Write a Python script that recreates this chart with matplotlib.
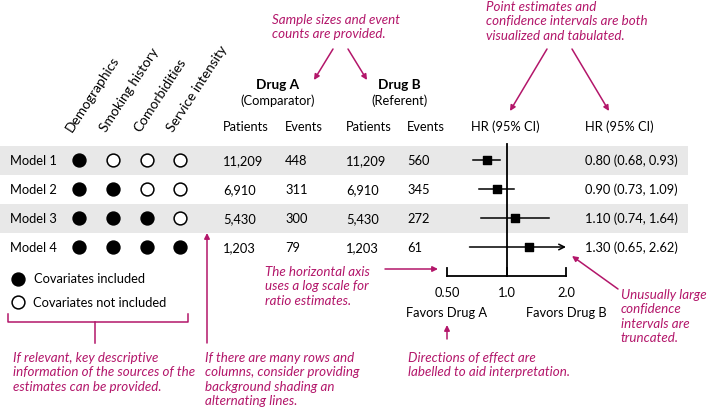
import matplotlib.pyplot as plt

plt.rcParams['font.family'] = ['Lato', 'DejaVu Sans']

# data
models = ["Model 1", "Model 2", "Model 3", "Model 4"]
covariates = ["Demographics", "Smoking history", "Comorbidities", "Service intensity"]
included = [[1, 0, 0, 0],
            [1, 1, 0, 0],
            [1, 1, 1, 0],
            [1, 1, 1, 1]]
patients_a = [11209, 6910, 5430, 1203]
events_a = [448, 311, 300, 79]
patients_b = [11209, 6910, 5430, 1203]
events_b = [560, 345, 272, 61]
hr = [0.80, 0.90, 1.10, 1.30]
hr_lo = [0.68, 0.73, 0.74, 0.65]
hr_hi = [0.93, 1.09, 1.64, 2.62]
axis_ticks = [0.5, 1.0, 2.0]
axis_ticklabels = ["0.50", "1.0", "2.0"]

MAG = "#B3166A"
FS = 9.3
NFS = 9.6

fig = plt.figure(figsize=(7.09, 4.10), dpi=100)
ax = fig.add_axes([0, 0, 1, 1])
ax.set_xlim(0, 709)
ax.set_ylim(410, 0)
ax.axis("off")

# forest panel on a log scale, 0.5 -> 447px, 2.0 -> 566px
fx = fig.add_axes([447 / 709, 0, (566 - 447) / 709, 1])
fx.set_xscale("log")
fx.set_xlim(axis_ticks[0], axis_ticks[-1])
fx.set_ylim(410, 0)
fx.axis("off")
fx.patch.set_alpha(0)

row0, dy = 161, 29
ys = [row0 + dy * i for i in range(len(models))]

# alternating shading
for i, y in enumerate(ys):
    if i % 2 == 0:
        ax.add_patch(plt.Rectangle((0, y - dy / 2), 688, dy, color="#E8E8E8", lw=0, zorder=0))

# column headers
circ_x = [79, 113, 147, 180]
for cx, name in zip(circ_x, covariates):
    ax.text(cx - 5, 134, name, rotation=57, rotation_mode="anchor",
            ha="left", va="bottom", fontsize=FS + 0.6)

ax.text(278, 85, "Drug A", ha="center", va="center", fontsize=FS + 0.5, fontweight="bold")
ax.text(278, 101, "(Comparator)", ha="center", va="center", fontsize=FS)
ax.text(399, 85, "Drug B", ha="center", va="center", fontsize=FS + 0.5, fontweight="bold")
ax.text(399, 101, "(Referent)", ha="center", va="center", fontsize=FS)
for x, lab in zip([223, 285, 346, 407], ["Patients", "Events", "Patients", "Events"]):
    ax.text(x, 127, lab, ha="left", va="center", fontsize=FS)
ax.text(505, 127, "HR (95% CI)", ha="center", va="center", fontsize=FS)
ax.text(585, 127, "HR (95% CI)", ha="left", va="center", fontsize=FS)

# table rows
for i, y in enumerate(ys):
    ax.text(10, y, models[i], ha="left", va="center", fontsize=FS)
    for cx, inc in zip(circ_x, included[i]):
        ax.scatter(cx, y, s=85, facecolor="black" if inc else "white",
                   edgecolor="black", lw=1.1, zorder=3)
    ax.text(223, y, f"{patients_a[i]:,}", ha="left", va="center", fontsize=FS)
    ax.text(285, y, f"{events_a[i]}", ha="left", va="center", fontsize=FS)
    ax.text(346, y, f"{patients_b[i]:,}", ha="left", va="center", fontsize=FS)
    ax.text(407, y, f"{events_b[i]}", ha="left", va="center", fontsize=FS)
    ax.text(585, y, f"{hr[i]:.2f} ({hr_lo[i]:.2f}, {hr_hi[i]:.2f})",
            ha="left", va="center", fontsize=FS)

# forest plot
axis_y = 277
fx.plot([1, 1], [145, axis_y], color="black", lw=1.3, clip_on=False)
fx.plot([axis_ticks[0], axis_ticks[-1]], [axis_y, axis_y], color="black", lw=1.3, clip_on=False)
for t, tl in zip(axis_ticks, axis_ticklabels):
    fx.plot([t, t], [axis_y - 8, axis_y], color="black", lw=1.3, clip_on=False)
    fx.text(t, 293, tl, ha="center", va="center", fontsize=FS)
fx.text(axis_ticks[0], 313, "Favors Drug A", ha="center", va="center", fontsize=FS)
fx.text(axis_ticks[-1], 313, "Favors Drug B", ha="center", va="center", fontsize=FS)

for i, y in enumerate(ys):
    if hr_hi[i] > axis_ticks[-1]:
        fx.annotate("", xy=(axis_ticks[-1], y), xytext=(hr_lo[i], y),
                    arrowprops=dict(arrowstyle="->", color="black", lw=1.1,
                                    shrinkA=0, shrinkB=0, mutation_scale=10),
                    annotation_clip=False)
    else:
        fx.plot([hr_lo[i], hr_hi[i]], [y, y], color="black", lw=1.1, clip_on=False)
    fx.scatter(hr[i], y, marker="s", s=26, color="black", zorder=3, clip_on=False)

# legend
ax.scatter(18, 280, s=85, facecolor="black", edgecolor="black", lw=1.1)
ax.text(34, 279, "Covariates included", ha="left", va="center", fontsize=FS)
ax.scatter(18, 303, s=85, facecolor="white", edgecolor="black", lw=1.1)
ax.text(33, 303, "Covariates not included", ha="left", va="center", fontsize=FS)

# annotations
def note(x, y, s):
    ax.text(x, y, s, ha="left", va="top", fontsize=NFS, style="italic",
            color=MAG, linespacing=1.25)

def arrow(x0, y0, x1, y1):
    ax.annotate("", xy=(x1, y1), xytext=(x0, y0),
                arrowprops=dict(arrowstyle="-|>", color=MAG, lw=1.1,
                                shrinkA=0, shrinkB=0, mutation_scale=8))

note(272, 14, "Sample sizes and event\ncounts are provided.")
arrow(333, 50, 314, 81)
arrow(348, 50, 367, 81)

note(486, 1, "Point estimates and\nconfidence intervals are both\nvisualized and tabulated.")
arrow(547, 50, 510, 112)
arrow(572, 50, 609, 112)

note(265, 266, "The horizontal axis\nuses a log scale for\nratio estimates.")
arrow(385, 270, 438, 270)

note(621, 289, "Unusually large\nconfidence\nintervals are\ntruncated.")
arrow(618, 290, 572, 257)

note(408, 352, "Directions of effect are\nlabelled to aid interpretation.")
arrow(447, 340, 447, 326)

note(13, 352, "If relevant, key descriptive\ninformation of the sources of the\nestimates can be provided.")
ax.plot([8, 8, 188, 188], [315, 323, 323, 315], color=MAG, lw=1.1)
ax.plot([95, 95], [323, 344], color=MAG, lw=1.1)

note(205, 352, "If there are many rows and\ncolumns, consider providing\nbackground shading an\nalternating lines.")
arrow(207, 344, 207, 234)

fig.savefig("out.png", dpi=100)
